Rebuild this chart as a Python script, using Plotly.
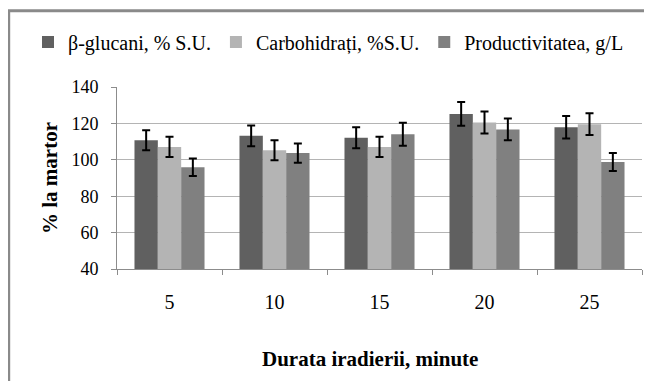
import plotly.graph_objects as go

categories = ["5", "10", "15", "20", "25"]
series_names = ["β-glucani, % S.U.", "Carbohidrați, %S.U.", "Productivitatea, g/L"]
beta_glucani = [110.8, 113.2, 112.1, 125.2, 117.9]
beta_err = [5.5, 5.7, 5.8, 6.5, 6.2]
carbohidrati = [107.1, 105.3, 107.1, 120.5, 119.6]
carb_err = [5.5, 5.5, 5.5, 6.0, 6.0]
productivitate = [95.9, 103.7, 114.0, 116.7, 98.8]
prod_err = [4.8, 5.3, 6.3, 6.0, 5.0]
colors = ["#606060", "#b4b4b4", "#808080"]
y_ticks = [40, 60, 80, 100, 120, 140]
x_title = "Durata iradierii, minute"
y_title = "% la martor"

fig = go.Figure()
for name, vals, errs, col in zip(series_names,
                                  [beta_glucani, carbohidrati, productivitate],
                                  [beta_err, carb_err, prod_err], colors):
    fig.add_trace(go.Bar(
        x=categories, y=vals, name=name, marker_color=col,
        marker_line_width=0,
        error_y=dict(type="data", array=errs, color="black", thickness=2, width=4),
    ))

serif = "Liberation Serif"
OFF = 8  # page body margin
W, H = 652 - OFF, 381 - OFF
# target plot box in screenshot pixels: x 117..642, y 87..269
L, R, T, B = 117 - OFF, W - (642 - OFF), 87 - OFF, H - (269 - OFF)
pw, ph = W - L - R, H - T - B

def px_x(p):
    return (min(max(p - OFF, 0), W) - L) / pw

def px_y(p):
    return (H - B - min(max(p - OFF, 0), H)) / ph

fig.update_layout(
    width=W, height=H,
    margin=dict(l=L, r=R, t=T, b=B, autoexpand=False),
    paper_bgcolor="white", plot_bgcolor="white",
    barmode="group", bargap=0.333, bargroupgap=0,
    font=dict(family=serif, color="black"),
    showlegend=True,
    legend=dict(orientation="h", x=px_x(28), xanchor="left", y=px_y(42), yanchor="middle",
                font=dict(family=serif, size=20, color="black"),
                itemwidth=30, tracegroupgap=0, bgcolor="rgba(0,0,0,0)"),
    xaxis=dict(
        type="category", showline=True, linecolor="#8c8c8c", linewidth=1,
        ticks="outside", tickson="boundaries", ticklen=5, tickcolor="#8c8c8c",
        tickfont=dict(family=serif, size=20, color="black"), ticklabelstandoff=15,
        showgrid=False,
    ),
    yaxis=dict(
        range=[40, 140], tickvals=y_ticks, showline=True, linecolor="#8c8c8c", linewidth=1,
        ticks="outside", ticklen=5, tickcolor="#8c8c8c",
        tickfont=dict(family=serif, size=18, color="black"), ticklabelstandoff=9,
        showgrid=True, gridcolor="#b4b4b4", gridwidth=1, zeroline=False,
        tickprefix="<b>", ticksuffix="</b>",
        title=dict(text="<b>" + y_title + "</b>", font=dict(family=serif, size=21), standoff=8),
    ),
    annotations=[
        dict(text="<b>" + x_title + "</b>", xref="paper", yref="paper",
             x=px_x(370), y=px_y(359), xanchor="center", yanchor="middle", showarrow=False,
             font=dict(family=serif, size=21, color="black")),
    ],
    shapes=[
        dict(type="line", xref="paper", yref="paper", x0=px_x(8.7), x1=px_x(8.7),
             y0=px_y(10.8), y1=px_y(400), line=dict(color="#8a8a8a", width=3)),
        dict(type="line", xref="paper", yref="paper", x0=px_x(7.2), x1=px_x(700),
             y0=px_y(10.8), y1=px_y(10.8), line=dict(color="#8a8a8a", width=3)),
    ],
)

fig.write_html(
    "out.html",
    post_script="document.documentElement.style.overflow='hidden';document.body.style.overflow='hidden';",
)
